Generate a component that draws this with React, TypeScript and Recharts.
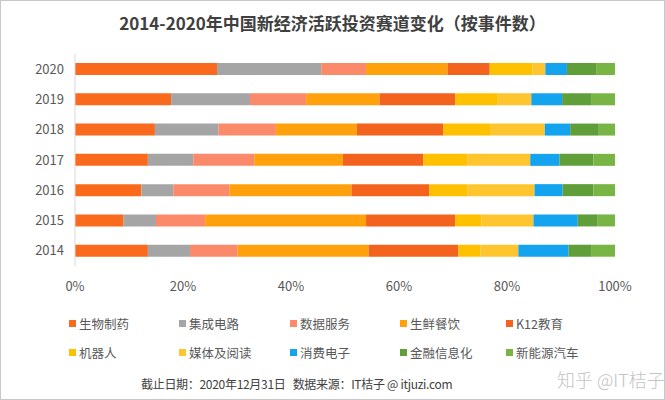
import { BarChart, Bar, XAxis, YAxis } from 'recharts';

const years = ['2020', '2019', '2018', '2017', '2016', '2015', '2014'];

const seriesNames = ['生物制药', '集成电路', '数据服务', '生鲜餐饮', 'K12教育', '机器人', '媒体及阅读', '消费电子', '金融信息化', '新能源汽车'];
const seriesColors = ['#FA6A1C', '#A5A5A5', '#FB8A6A', '#FFA10D', '#F4631E', '#FFC000', '#FFC52E', '#14A3EE', '#5F9E38', '#79B545'];

// share of events per track, % (rows follow years)
const bio = [26.3, 17.8, 14.8, 13.5, 12.3, 9.0, 13.5];
const chip = [19.3, 14.6, 11.8, 8.4, 5.9, 6.0, 7.8];
const dataSvc = [8.3, 10.4, 10.6, 11.3, 10.4, 9.1, 8.8];
const fresh = [15.1, 13.6, 15.0, 16.4, 22.6, 29.8, 24.3];
const k12 = [7.8, 14.0, 16.0, 14.9, 14.4, 16.5, 16.6];
const robot = [7.9, 7.9, 8.8, 8.2, 7.1, 4.9, 4.1];
const media = [2.4, 6.2, 10.0, 11.6, 12.4, 9.6, 7.0];
const electronics = [4.0, 5.7, 4.7, 5.4, 5.2, 8.2, 9.3];
const fintech = [5.4, 5.5, 5.3, 6.3, 5.7, 3.7, 4.3];
const ev = [3.5, 4.3, 3.0, 4.0, 4.0, 3.2, 4.3];

const seriesValues = [bio, chip, dataSvc, fresh, k12, robot, media, electronics, fintech, ev];
const xTicks = [0, 0.2, 0.4, 0.6, 0.8, 1];

const data = years.map((year, i) => {
  const row: Record<string, string | number> = { year };
  const total = seriesValues.reduce((s, arr) => s + arr[i], 0);
  seriesNames.forEach((name, k) => {
    row[name] = seriesValues[k][i] / total;
  });
  return row;
});

const font = '"Noto Sans CJK SC", "Noto Sans", sans-serif';

export default function App() {
  return (
    <div
      style={{
        position: 'absolute',
        left: 0,
        top: 0,
        width: 665,
        height: 400,
        boxSizing: 'border-box',
        border: '1px solid #c8c8c8',
        background: '#fff',
        fontFamily: font,
      }}
    >
      <div
        style={{
          position: 'absolute',
          top: 9,
          width: '100%',
          textAlign: 'center',
          fontSize: 17,
          fontWeight: 700,
          color: '#404040',
        }}
      >
        2014-2020年中国新经济活跃投资赛道变化（按事件数）
      </div>

      <div style={{ position: 'absolute', left: 0, top: 0 }}>
        <BarChart
          width={665}
          height={300}
          data={data}
          layout="vertical"
          margin={{ top: 53, right: 51, left: 0, bottom: 0 }}
          barCategoryGap={9}
        >
          <XAxis
            type="number"
            domain={[0, 1]}
            ticks={xTicks}
            tickFormatter={(v: number) => `${Math.round(v * 100)}%`}
            axisLine={false}
            tickLine={false}
            height={35}
            tickMargin={10}
            tick={{ fill: '#595959', fontSize: 13, fontFamily: font }}
            interval={0}
          />
          <YAxis
            type="category"
            dataKey="year"
            width={74}
            axisLine={{ stroke: '#d9d9d9' }}
            tickLine={false}
            tickMargin={5}
            tick={{ fill: '#595959', fontSize: 13, fontFamily: font }}
          />
          {seriesNames.map((name, k) => (
            <Bar
              key={name}
              dataKey={name}
              stackId="a"
              fill={seriesColors[k]}
              barSize={12}
              isAnimationActive={false}
            />
          ))}
        </BarChart>
      </div>

      {seriesNames.map((name, k) => {
        const col = k % 5;
        const rowIdx = Math.floor(k / 5);
        const lefts = [68, 178, 289, 399, 505];
        return (
          <div
            key={name}
            style={{
              position: 'absolute',
              left: lefts[col],
              top: 313 + rowIdx * 29,
              display: 'flex',
              alignItems: 'center',
              fontSize: 12.5,
              color: '#595959',
              whiteSpace: 'nowrap',
            }}
          >
            <span
              style={{
                display: 'inline-block',
                width: 7,
                height: 7,
                background: seriesColors[k],
                marginRight: 3,
              }}
            />
            {name}
          </div>
        );
      })}

      <div
        style={{
          position: 'absolute',
          left: 140,
          top: 374,
          fontSize: 12,
          color: '#404040',
          whiteSpace: 'pre',
          letterSpacing: -0.3,
        }}
      >
        {'截止日期：2020年12月31日   数据来源：IT桔子 @ itjuzi.com'}
      </div>
      <div
        style={{
          position: 'absolute',
          left: 556,
          top: 365,
          fontSize: 18,
          fontWeight: 300,
          color: '#c4c4c4',
          whiteSpace: 'nowrap',
        }}
      >
        知乎 @IT桔子
      </div>
    </div>
  );
}
